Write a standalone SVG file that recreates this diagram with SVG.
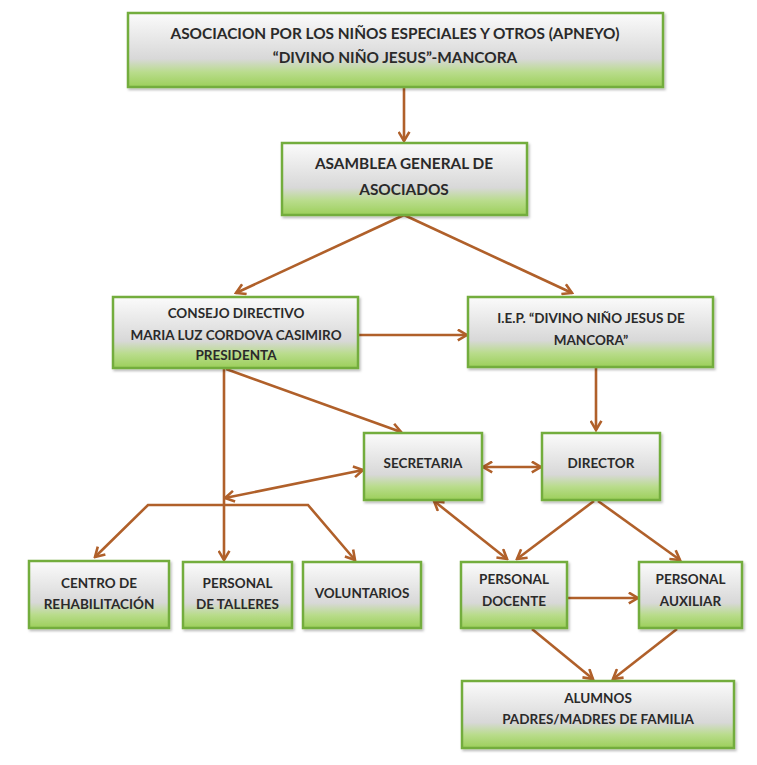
<svg xmlns="http://www.w3.org/2000/svg" width="757" height="765" viewBox="0 0 757 765">
<defs>
<linearGradient id="g" x1="0" y1="0" x2="0" y2="1">
<stop offset="0" stop-color="#fbfbfb"/>
<stop offset="0.62" stop-color="#d8d8d8"/>
<stop offset="0.8" stop-color="#b9dc8c"/>
<stop offset="1" stop-color="#9ccf5a"/>
</linearGradient>
<filter id="sh" x="-5%" y="-5%" width="112%" height="120%">
<feDropShadow dx="1.5" dy="2" stdDeviation="1.2" flood-color="#000" flood-opacity="0.25"/>
</filter>
<marker id="ah" viewBox="0 0 12 12" refX="10.5" refY="6" markerWidth="13" markerHeight="13" markerUnits="userSpaceOnUse" orient="auto-start-reverse">
<path d="M2,1 L10.5,6 L2,11" fill="none" stroke="#b0602a" stroke-width="2.4" stroke-linejoin="miter"/>
</marker>
</defs>
<style>
.box{fill:url(#g);stroke:#73ad3d;stroke-width:2.5;filter:url(#sh)}
.t{font-family:Lato,"Liberation Sans",sans-serif;font-weight:bold;fill:#2a2a2a;text-anchor:middle;font-size:13.5px}
.big{font-size:15.4px}
.c{fill:none;stroke:#b0602a;stroke-width:2.6;marker-end:url(#ah)}
.d{marker-start:url(#ah)}
</style>
<rect width="757" height="765" fill="#fff"/>
<g id="connectors">
<path class="c" d="M404,87 L404,141"/>
<path class="c" d="M404,215 L236,293"/>
<path class="c" d="M404,215 L572,293"/>
<path class="c" d="M358,335 L467,335"/>
<path class="c" d="M596,368 L596,430"/>
<path class="c" d="M226,369 L401,432"/>
<path class="c d" d="M483,467 L541,467"/>
<path class="c d" d="M363,470 L225,498"/>
<path class="c" d="M224,368 L224,560"/>
<path class="c d" d="M95,557 L148,505 L308,505 L355,560"/>
<path class="c d" d="M434,501 L507,559"/>
<path class="c" d="M594,501 L517,559"/>
<path class="c" d="M598,501 L680,560"/>
<path class="c" d="M567,598 L638,598"/>
<path class="c" d="M532,629 L593,679"/>
<path class="c" d="M677,629 L613,679"/>
</g>
<g id="apneyo">
<rect class="box" x="128" y="13" width="535" height="74"/>
<text class="t big" x="395" y="38.5">ASOCIACION POR LOS NIÑOS ESPECIALES Y OTROS (APNEYO)</text>
<text class="t big" x="395" y="62.5">“DIVINO NIÑO JESUS”-MANCORA</text>
</g>
<g id="asamblea">
<rect class="box" x="282" y="143" width="245" height="72"/>
<text class="t big" x="404" y="168.5">ASAMBLEA GENERAL DE</text>
<text class="t big" x="404" y="194.5">ASOCIADOS</text>
</g>
<g id="consejo">
<rect class="box" x="113" y="297" width="245" height="71"/>
<text class="t" x="236" y="318">CONSEJO DIRECTIVO</text>
<text class="t" x="236" y="340">MARIA LUZ CORDOVA CASIMIRO</text>
<text class="t" x="236" y="360">PRESIDENTA</text>
</g>
<g id="iep">
<rect class="box" x="468" y="297" width="245" height="70"/>
<text class="t" x="591" y="323">I.E.P. “DIVINO NIÑO JESUS DE</text>
<text class="t" x="591" y="345">MANCORA”</text>
</g>
<g id="secretaria">
<rect class="box" x="364" y="433" width="118" height="67"/>
<text class="t" x="423" y="468">SECRETARIA</text>
</g>
<g id="director">
<rect class="box" x="542" y="433" width="118" height="67"/>
<text class="t" x="601" y="468">DIRECTOR</text>
</g>
<g id="centro">
<rect class="box" x="29" y="561" width="140" height="67"/>
<text class="t" x="99" y="588">CENTRO DE</text>
<text class="t" x="99" y="609">REHABILITACIÓN</text>
</g>
<g id="talleres">
<rect class="box" x="183" y="562" width="109" height="66"/>
<text class="t" x="237.5" y="588">PERSONAL</text>
<text class="t" x="237.5" y="609">DE TALLERES</text>
</g>
<g id="voluntarios">
<rect class="box" x="303" y="562" width="118" height="66"/>
<text class="t" x="362" y="598">VOLUNTARIOS</text>
</g>
<g id="docente">
<rect class="box" x="461" y="562" width="106" height="66"/>
<text class="t" x="514" y="584">PERSONAL</text>
<text class="t" x="514" y="606">DOCENTE</text>
</g>
<g id="auxiliar">
<rect class="box" x="639" y="562" width="103" height="66"/>
<text class="t" x="690.5" y="584">PERSONAL</text>
<text class="t" x="690.5" y="606">AUXILIAR</text>
</g>
<g id="alumnos">
<rect class="box" x="462" y="681" width="272" height="67"/>
<text class="t" x="598" y="703">ALUMNOS</text>
<text class="t" x="598" y="724">PADRES/MADRES DE FAMILIA</text>
</g>
</svg>
